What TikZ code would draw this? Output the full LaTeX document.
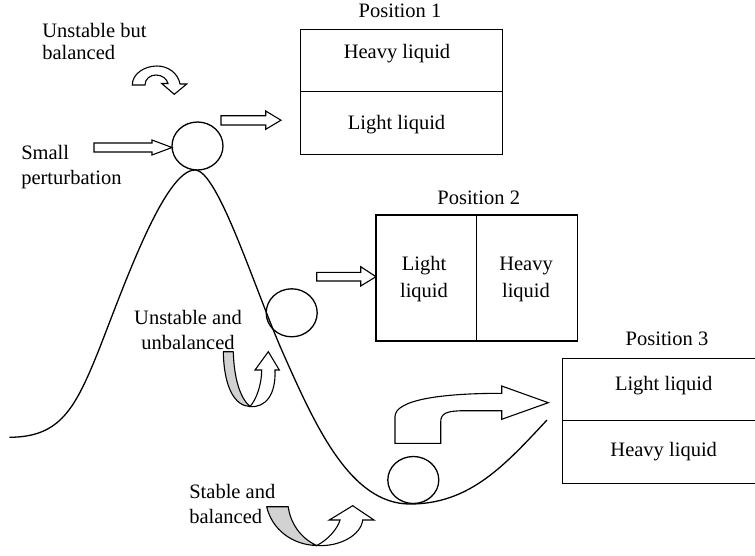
\documentclass[tikz,border=0pt]{standalone}
\usepackage{fontspec}
\setmainfont{Liberation Serif}
\usetikzlibrary{shapes.geometric}
\newcommand{\twolines}[3]{\begin{tabular}[t]{@{}#1@{}}#2\\#3\end{tabular}}
\begin{document}
\begin{tikzpicture}[x=1pt,y=-1pt,
  lbl/.style={font=\fontsize{20.5}{24}\selectfont, inner sep=0pt, outer sep=0pt},
  cell/.style={draw, line width=1.3pt, inner sep=0pt, outer sep=0pt},
  ball/.style={draw, ellipse, line width=1.3pt, inner sep=0pt, outer sep=0pt,
               minimum width=51pt, minimum height=48pt},
  blockarrow/.style={draw, fill=white, line width=1.1pt, line join=miter},
  underside/.style={draw, fill=gray!35, line width=1.1pt, line join=round},
  hill/.style={line width=1.3pt}]

\useasboundingbox (0,0) rectangle (755,555);
\clip (0,0) rectangle (755,555);

% ---------- energy landscape ----------
\draw[hill] (9.3,437.3) .. controls (60,437) and (75,410) .. (100,347)
  .. controls (125,283) and (165,170) .. (195,170)
  .. controls (218,170) and (255,290) .. (283,353)
  .. controls (315,425) and (350,504) .. (410,504)
  .. controls (470,504) and (505,465) .. (547,420);

% ---------- balls ----------
\node[ball] (ball1) at (197.5,146) {};
\node[ball] (ball2) at (291.7,312.8) {};
\node[ball, minimum height=47pt] (ball3) at (413.3,480) {};

% ---------- position 1 ----------
\node[lbl, anchor=base] (pos1) at (400,17.3) {Position 1};
\node[cell, minimum width=202pt, minimum height=62.4pt] (p1a) at (401.7,60.5) {};
\node[cell, minimum width=202pt, minimum height=62.6pt] (p1b) at (401.7,123) {};
\node[lbl, anchor=base] (p1heavy) at (397,58.3) {Heavy liquid};
\node[lbl, anchor=base] (p1light) at (396.5,129.3) {Light liquid};

% ---------- position 2 ----------
\node[lbl, anchor=base] (pos2) at (478.7,204) {Position 2};
\node[cell, minimum width=100.7pt, minimum height=126pt] (p2a) at (426.35,278) {};
\node[cell, minimum width=101pt, minimum height=126pt] (p2b) at (527.2,278) {};
\node[lbl, anchor=base, font=\fontsize{20.5}{27}\selectfont] (p2light) at (424,270) {\twolines{c}{Light}{liquid}};
\node[lbl, anchor=base, font=\fontsize{20.5}{27}\selectfont] (p2heavy) at (526,270) {\twolines{c}{Heavy}{liquid}};

% ---------- position 3 ----------
\node[lbl, anchor=base] (pos3) at (667,345) {Position 3};
\node[cell, minimum width=202pt, minimum height=62pt] (p3a) at (663.7,389.3) {};
\node[cell, minimum width=202pt, minimum height=63pt] (p3b) at (663.7,451.8) {};
\node[lbl, anchor=base] (p3light) at (663.7,390) {Light liquid};
\node[lbl, anchor=base] (p3heavy) at (663.7,456.7) {Heavy liquid};

% ---------- captions ----------
\node[lbl, anchor=base west, font=\fontsize{20.5}{22}\selectfont] (cap1) at (42.3,37.3) {\twolines{l}{Unstable but}{balanced}};
\node[lbl, anchor=base west, font=\fontsize{20.5}{25}\selectfont] (cap2) at (21.3,159.3) {\twolines{l}{Small}{perturbation}};
\node[lbl, anchor=base, font=\fontsize{20.5}{25}\selectfont] (cap3) at (188,324.3) {\twolines{c}{Unstable and}{unbalanced}};
\node[lbl, anchor=base west, font=\fontsize{20.5}{25}\selectfont] (cap4) at (189.3,498) {\twolines{l}{Stable and}{balanced}};

% ---------- straight block arrows ----------
\draw[blockarrow] (94,143) -- (152,143) -- (152,140) -- (172,147.5) -- (152,155)
  -- (152,152) -- (94,152) -- cycle;
\draw[blockarrow] (221,115.7) -- (265.7,115.7) -- (265.7,111) -- (281,120.2)
  -- (265.7,129.3) -- (265.7,125) -- (221,125) -- cycle;
\draw[blockarrow] (316.7,272.3) -- (360.7,272.3) -- (360.7,266.7) -- (376,276.7)
  -- (360.7,286) -- (360.7,281) -- (316.7,281) -- cycle;

% ---------- small turning arrow ----------
\draw[blockarrow] (132.3,85) -- (145,85) .. controls (145,79) and (150,75) .. (156,75)
  .. controls (162,75) and (167,79) .. (168,83.5) -- (161.7,83.5) -- (174.3,94.3)
  -- (186.7,84) -- (180,84) .. controls (178,73) and (168,66) .. (157,66)
  .. controls (144,66) and (132.3,74) .. (132.3,85) -- cycle;

% ---------- U-turn arrow, unstable and unbalanced ----------
\draw[underside] (223.3,351.7) -- (233.3,351.7) .. controls (234,378) and (240,398) .. (250,406.5)
  .. controls (235,406) and (224,388) .. (223.3,351.7) -- cycle;
\draw[blockarrow] (250,406.5) .. controls (256,400) and (261.7,385) .. (261.7,370)
  -- (255,370) -- (268.3,351.7) -- (279.3,370) -- (275,370)
  .. controls (276,394) and (266,408) .. (250,406.5) -- cycle;

% ---------- U-turn arrow, stable and balanced ----------
\draw[underside] (266.7,506.7) -- (288.3,506.7) .. controls (290,522) and (300,538) .. (316.7,545.5)
  .. controls (293,545) and (272,530) .. (266.7,506.7) -- cycle;
\draw[blockarrow] (316.7,545.5) .. controls (328,540) and (338,528) .. (340,520)
  -- (329.3,520) -- (352.7,505.7) -- (374,520) -- (362.7,520)
  .. controls (361,535) and (340,547) .. (316.7,545.5) -- cycle;

% ---------- bent arrow towards position 3 ----------
\draw[blockarrow] (395,443.3) -- (395,416.7) .. controls (395,400) and (440,393.3) .. (501.7,393.3)
  -- (501.7,386) -- (548.3,402.7) -- (501.7,419.3) -- (501.7,410.7) -- (463,410.7)
  .. controls (447,411) and (440.7,413) .. (440.7,422) -- (440.7,443.3) -- cycle;

\end{tikzpicture}
\end{document}
